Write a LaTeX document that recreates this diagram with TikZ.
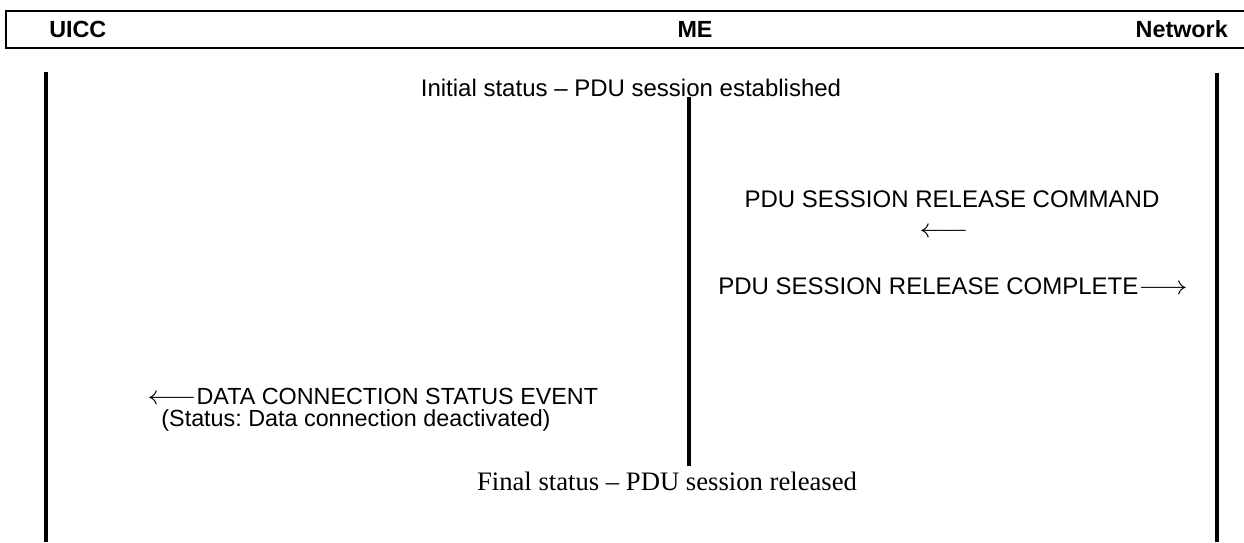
\documentclass[tikz,border=0pt]{standalone}
\usepackage{fontspec}
\usepackage{graphicx}
\setmainfont{Liberation Serif}
\setsansfont{Liberation Sans}
\newcommand{\bigarr}[1]{\scalebox{1.33}[1.15]{$#1$}}
\begin{document}
\frenchspacing
\begin{tikzpicture}[x=0.75pt,y=-0.75pt,
  hdr/.style={font=\sffamily\bfseries\fontsize{17.5}{20}\selectfont, inner sep=0pt},
  msg/.style={font=\sffamily\fontsize{18}{21}\selectfont, inner sep=0pt},
  msgs/.style={font=\sffamily\fontsize{17.5}{20}\selectfont, inner sep=0pt},
  fin/.style={font=\rmfamily\fontsize{20}{24}\selectfont, inner sep=0pt},
  life/.style={line width=3.2pt},
  box/.style={line width=1.6pt}]
\useasboundingbox (0,0) rectangle (1244,542);
% header box
\coordinate (hTL) at (6,11);
\coordinate (hBL) at (6,48);
\coordinate (hTR) at (1244,11);
\coordinate (hBR) at (1244,48);
\draw[box] (hTR) -- (hTL) -- (hBL) -- (hBR);
\node[hdr, anchor=west] (uicc) at (49,29) {UICC};
\node[hdr] (me) at (695,29) {ME};
\node[hdr, anchor=east] (net) at (1228,29) {Network};
% lifelines
\coordinate (u1) at (46,72);
\coordinate (u2) at (46,542);
\coordinate (m1) at (689,97);
\coordinate (m2) at (689,466);
\coordinate (n1) at (1217,73);
\coordinate (n2) at (1217,542);
\draw[life] (u1) -- (u2);
\draw[life] (m1) -- (m2);
\draw[life] (n1) -- (n2);
% texts
\node[msg] (init) at (631,88) {Initial status -- PDU session established};
\node[msg, align=center, anchor=north] (cmd) at (952,190.5)
  {PDU SESSION RELEASE COMMAND\\[1.8pt]\bigarr{\longleftarrow}\hspace*{12pt}};
\node[msg, anchor=west] (cpl) at (718,286) {PDU SESSION RELEASE COMPLETE\bigarr{\longrightarrow}};
\node[msgs, anchor=west] (dcs) at (147,396) {\bigarr{\longleftarrow}DATA CONNECTION STATUS EVENT};
\node[msgs] (dcs2) at (356,420) {(Status: Data connection deactivated)};
\node[fin] (final) at (667,481) {Final status -- PDU session released};
\end{tikzpicture}
\end{document}
